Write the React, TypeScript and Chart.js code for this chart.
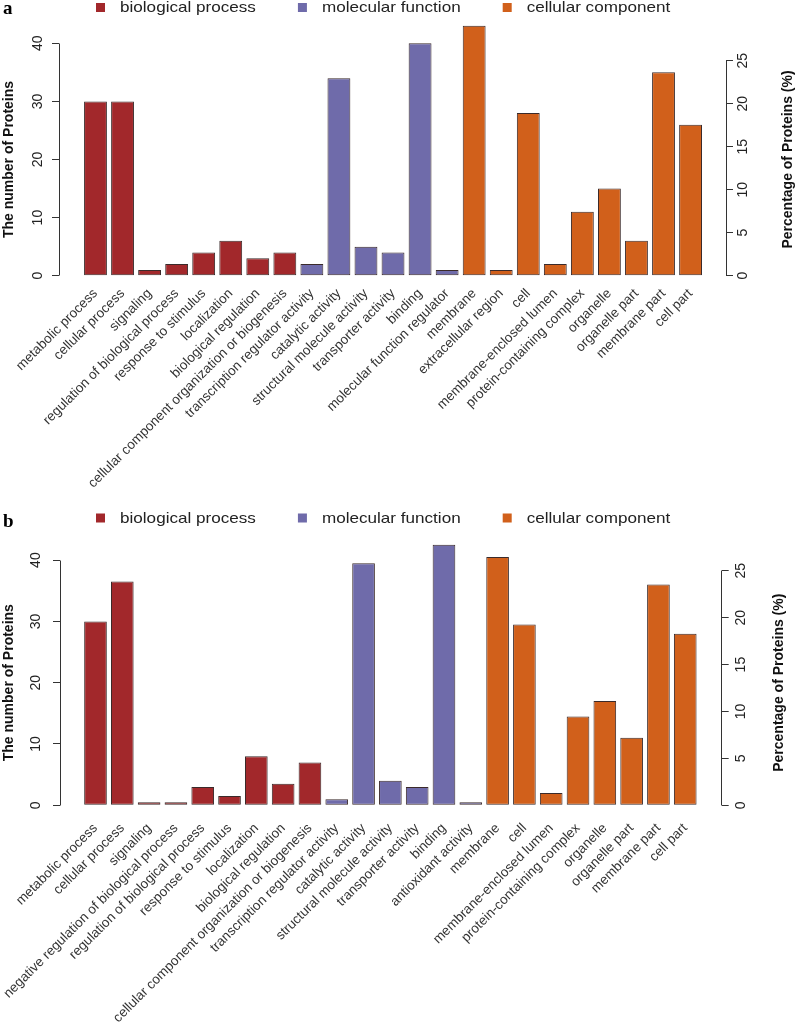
import React, { useEffect, useRef } from "react";
import { Chart, registerables } from "chart.js";

Chart.register(...registerables);
Chart.defaults.font.family = "'Liberation Sans', Arial, Helvetica, sans-serif";

// ---------------- Data: panel a ----------------
const bpLabelsA = [
  "metabolic process",
  "cellular process",
  "signaling",
  "regulation of biological process",
  "response to stimulus",
  "localization",
  "biological regulation",
  "cellular component organization or biogenesis",
];
const bpValuesA = [30, 30, 1, 2, 4, 6, 3, 4];
const mfLabelsA = [
  "transcription regulator activity",
  "catalytic activity",
  "structural molecule activity",
  "transporter activity",
  "binding",
  "molecular function regulator",
];
const mfValuesA = [2, 34, 5, 4, 40, 1];
const ccLabelsA = [
  "membrane",
  "extracellular region",
  "cell",
  "membrane-enclosed lumen",
  "protein-containing complex",
  "organelle",
  "organelle part",
  "membrane part",
  "cell part",
];
const ccValuesA = [43, 1, 28, 2, 11, 15, 6, 35, 26];
const totalProteinsA = 148;

// ---------------- Data: panel b ----------------
const bpLabelsB = [
  "metabolic process",
  "cellular process",
  "signaling",
  "negative regulation of biological process",
  "regulation of biological process",
  "response to stimulus",
  "localization",
  "biological regulation",
  "cellular component organization or biogenesis",
];
const bpValuesB = [30, 36.5, 0.5, 0.5, 3, 1.5, 8, 3.5, 7];
const mfLabelsB = [
  "transcription regulator activity",
  "catalytic activity",
  "structural molecule activity",
  "transporter activity",
  "binding",
  "antioxidant activity",
];
const mfValuesB = [1, 39.5, 4, 3, 42.5, 0.5];
const ccLabelsB = [
  "membrane",
  "cell",
  "membrane-enclosed lumen",
  "protein-containing complex",
  "organelle",
  "organelle part",
  "membrane part",
  "cell part",
];
const ccValuesB = [40.5, 29.5, 2, 14.5, 17, 11, 36, 28];
const totalProteinsB = 153;

// ---------------- Shared ----------------
const groupNames = ["biological process", "molecular function", "cellular component"];
const countTicks = [0, 10, 20, 30, 40];
const percentTicks = [0, 5, 10, 15, 20, 25];
const leftTitle = "The number of Proteins";
const rightTitle = "Percentage of Proteins (%)";

const COLORS = ["#A2282B", "#6F6BAA", "#D1601B"];
const EDGE = "#3a2a2a";
const FONT = "'Liberation Sans', Arial, Helvetica, sans-serif";

type PanelCfg = {
  letter: string;
  labels: string[][];
  values: number[][];
  total: number;
  top: number;
  height: number;
  padTop: number;
  xAxisHeight: number;
  leftWidth: number;
  rightWidth: number;
  xMin: number;
  xMax: number;
  yMax: number;
  labelPad: number;
  leftTickOffset: number;
  rightTickOffset: number;
  legendX: number;
  legendY: number;
  letterY: number;
  leftTitleX: number;
  rightTitleX: number;
};

const panelA: PanelCfg = {
  letter: "a",
  labels: [bpLabelsA, mfLabelsA, ccLabelsA],
  values: [bpValuesA, mfValuesA, ccValuesA],
  total: totalProteinsA,
  top: 0,
  height: 500,
  padTop: 24,
  xAxisHeight: 224.3,
  leftWidth: 59,
  rightWidth: 71,
  xMin: -1.349,
  xMax: 23.31,
  yMax: 43.32,
  labelPad: 10,
  leftTickOffset: 20.7,
  rightTickOffset: 17.5,
  legendX: 96,
  legendY: 7.5,
  letterY: 14,
  leftTitleX: 9,
  rightTitleX: 788,
};

const panelB: PanelCfg = {
  letter: "b",
  labels: [bpLabelsB, mfLabelsB, ccLabelsB],
  values: [bpValuesB, mfValuesB, ccValuesB],
  total: totalProteinsB,
  top: 500,
  height: 532,
  padTop: 36,
  xAxisHeight: 226.7,
  leftWidth: 60,
  rightWidth: 75.3,
  xMin: -1.324,
  xMax: 23.36,
  yMax: 43.93,
  labelPad: 15,
  leftTickOffset: 23.7,
  rightTickOffset: 19,
  legendX: 96,
  legendY: 18,
  letterY: 27,
  leftTitleX: 9,
  rightTitleX: 779.5,
};

function alignPx(v: number) {
  return Math.round(v - 0.5) + 0.5;
}

function drawRotated(ctx: CanvasRenderingContext2D, text: string, x: number, y: number) {
  ctx.save();
  ctx.translate(x, y);
  ctx.rotate(-Math.PI / 2);
  ctx.fillText(text, 0, 0);
  ctx.restore();
}

const rDecor = {
  id: "rDecor",
  afterDraw(chart: any, _args: any, opts: any) {
    const ctx: CanvasRenderingContext2D = chart.ctx;
    const ys = chart.scales.y;
    const yr = chart.scales.y1;
    ctx.save();
    // axis lines spanning only the tick range (R style)
    ctx.strokeStyle = "#333";
    ctx.lineWidth = 1;
    ctx.beginPath();
    const lx = alignPx(ys.right);
    ctx.moveTo(lx, alignPx(ys.getPixelForValue(countTicks[0])));
    ctx.lineTo(lx, alignPx(ys.getPixelForValue(countTicks[countTicks.length - 1])));
    const rx = alignPx(yr.left);
    ctx.moveTo(rx, alignPx(yr.getPixelForValue(percentTicks[0])));
    ctx.lineTo(rx, alignPx(yr.getPixelForValue(percentTicks[percentTicks.length - 1])));
    ctx.stroke();

    // tick labels, parallel to the axis (R las = 0)
    ctx.fillStyle = "#222";
    ctx.font = `14px ${FONT}`;
    ctx.textAlign = "center";
    ctx.textBaseline = "middle";
    countTicks.forEach((v) => {
      drawRotated(ctx, String(v), ys.right - opts.leftTickOffset, ys.getPixelForValue(v));
    });
    percentTicks.forEach((v) => {
      drawRotated(ctx, String(v), yr.left + opts.rightTickOffset, yr.getPixelForValue(v));
    });

    // axis titles (both reading bottom-to-top)
    const yMid = ys.getPixelForValue((countTicks[0] + countTicks[countTicks.length - 1]) / 2);
    ctx.fillStyle = "#111";
    ctx.font = `bold 14px ${FONT}`;
    drawRotated(ctx, leftTitle, opts.leftTitleX, yMid);
    drawRotated(ctx, rightTitle, opts.rightTitleX, yMid);

    // legend (horizontal, R style)
    const box = 9;
    const sx = 1.14;
    let x = opts.legendX;
    ctx.font = `15px ${FONT}`;
    ctx.textAlign = "left";
    ctx.textBaseline = "middle";
    chart.data.datasets.forEach((ds: any) => {
      ctx.fillStyle = ds.backgroundColor;
      ctx.fillRect(x, opts.legendY - box / 2, box, box);
      const tx = x + box + 15;
      ctx.fillStyle = "#222";
      ctx.save();
      ctx.translate(tx, opts.legendY + 0.5);
      ctx.scale(sx, 1);
      ctx.fillText(ds.label, 0, 0);
      ctx.restore();
      const w = ctx.measureText(ds.label).width * sx;
      x = tx + w + 42;
    });

    // panel letter
    ctx.fillStyle = "#000";
    ctx.font = "bold 19px 'Liberation Serif', 'Times New Roman', serif";
    ctx.textAlign = "left";
    ctx.textBaseline = "alphabetic";
    ctx.fillText(opts.letter, 3, opts.letterY);
    ctx.restore();
  },
};

function buildConfig(cfg: PanelCfg): any {
  const categories = ([] as string[]).concat(...cfg.labels);
  let offset = 0;
  const datasets = cfg.values.map((vals, g) => {
    const start = offset;
    offset += vals.length;
    return {
      label: groupNames[g],
      data: vals.map((v, i) => ({ x: start + i, y: v })),
      backgroundColor: COLORS[g],
      borderColor: EDGE,
      borderWidth: 1,
      borderSkipped: false,
      grouped: false,
      categoryPercentage: 1,
      barPercentage: 0.845,
      clip: false,
    };
  });

  const yGrid = {
    display: true,
    drawOnChartArea: false,
    drawTicks: true,
    tickLength: 7,
    color: "#333",
    lineWidth: 1,
  };

  return {
    type: "bar",
    data: { datasets },
    options: {
      animation: false,
      responsive: false,
      maintainAspectRatio: false,
      layout: { padding: { top: cfg.padTop, left: 0, right: 0, bottom: 0 } },
      plugins: {
        legend: { display: false },
        tooltip: { enabled: false },
        rDecor: {
          letter: cfg.letter,
          legendX: cfg.legendX,
          legendY: cfg.legendY,
          letterY: cfg.letterY,
          leftTitleX: cfg.leftTitleX,
          rightTitleX: cfg.rightTitleX,
          leftTickOffset: cfg.leftTickOffset,
          rightTickOffset: cfg.rightTickOffset,
        },
      },
      scales: {
        x: {
          type: "linear",
          offset: false,
          min: cfg.xMin,
          max: cfg.xMax,
          grid: { display: false, drawTicks: false },
          border: { display: false },
          afterBuildTicks: (s: any) => {
            s.ticks = categories.map((_, i) => ({ value: i }));
          },
          afterFit: (s: any) => {
            s.height = cfg.xAxisHeight;
          },
          ticks: {
            autoSkip: false,
            minRotation: 45,
            maxRotation: 45,
            padding: cfg.labelPad,
            color: "#333",
            font: { size: 13.5, family: FONT },
            callback: (_v: any, i: number) => categories[i],
          },
        },
        y: {
          type: "linear",
          position: "left",
          min: 0,
          max: cfg.yMax,
          afterBuildTicks: (s: any) => {
            s.ticks = countTicks.map((v) => ({ value: v }));
          },
          afterFit: (s: any) => {
            s.width = cfg.leftWidth;
          },
          grid: yGrid,
          border: { display: false },
          ticks: { display: false },
        },
        y1: {
          type: "linear",
          position: "right",
          min: 0,
          max: (cfg.yMax * 100) / cfg.total,
          afterBuildTicks: (s: any) => {
            s.ticks = percentTicks.map((v) => ({ value: v }));
          },
          afterFit: (s: any) => {
            s.width = cfg.rightWidth;
          },
          grid: yGrid,
          border: { display: false },
          ticks: { display: false },
        },
      },
    },
    plugins: [rDecor],
  };
}

function Panel({ cfg }: { cfg: PanelCfg }) {
  const ref = useRef<HTMLCanvasElement>(null);
  useEffect(() => {
    if (!ref.current) return;
    const chart = new Chart(ref.current, buildConfig(cfg));
    return () => chart.destroy();
  }, [cfg]);
  return (
    <div style={{ position: "absolute", left: 0, top: cfg.top, width: 797, height: cfg.height }}>
      <canvas
        ref={ref}
        width={797}
        height={cfg.height}
        style={{ display: "block", width: 797, height: cfg.height }}
      />
    </div>
  );
}

export default function App() {
  return (
    <div
      style={{
        position: "absolute",
        left: 0,
        top: 0,
        width: 797,
        height: 1032,
        background: "#fff",
        overflow: "hidden",
      }}
    >
      <Panel cfg={panelA} />
      <Panel cfg={panelB} />
    </div>
  );
}
